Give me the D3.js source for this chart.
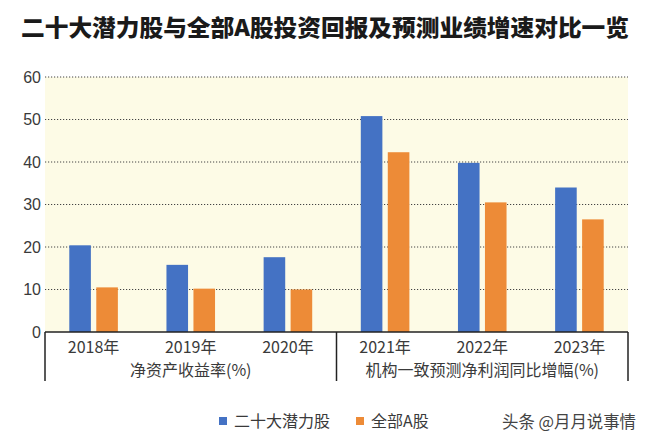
<!DOCTYPE html>
<html><head><meta charset="utf-8">
<script src="https://cdn.jsdelivr.net/npm/d3@7"></script>
<style>
html,body{margin:0;padding:0;background:#fff;}
svg{display:block;font-family:"Noto Sans CJK SC","Noto Sans",sans-serif;}
</style></head>
<body>
<svg id="chart" width="650" height="445"></svg>
<script>
const title = "二十大潜力股与全部A股投资回报及预测业绩增速对比一览";
const categories = ["2018年","2019年","2020年","2021年","2022年","2023年"];
const seriesNames = ["二十大潜力股","全部A股"];
const potentialStocks = [20.4, 15.8, 17.6, 50.8, 39.8, 34.0];
const allAShares = [10.5, 10.2, 10.0, 42.3, 30.5, 26.5];
const groupLabels = ["净资产收益率(%)", "机构一致预测净利润同比增幅(%)"];
const groupSpans = [[0,2],[3,5]];
const yTicks = [0,10,20,30,40,50,60];
const watermark = "头条 @月月说事情";
const colors = ["#4472c4", "#ed8b37"];

const svg = d3.select("#chart");
const L = 45, R = 628, T = 77, B = 332;

const x0 = d3.scaleBand().domain(categories).range([L, R]).padding(0);
const x1 = d3.scaleBand().domain(seriesNames).range([0, x0.bandwidth()]).paddingInner(0.2).paddingOuter(0.9);
const y = d3.scaleLinear().domain([0, 60]).range([B, T]);

// title
svg.append("text").attr("x", 325).attr("y", 36).attr("text-anchor", "middle")
  .attr("font-size", 23).attr("font-weight", 900).attr("fill", "#1a1a1a")
  .attr("textLength", 608).attr("lengthAdjust", "spacingAndGlyphs")
  .text(title);

// background
svg.append("rect").attr("x", L).attr("y", y(60)).attr("width", R - L).attr("height", B - y(60))
  .attr("fill", "#fdfbe6");

// grid
svg.append("g").selectAll("line").data(yTicks.filter(d => d > 0)).join("line")
  .attr("x1", L).attr("x2", R).attr("y1", d => y(d)).attr("y2", d => y(d))
  .attr("stroke", "#444").attr("stroke-width", 1).attr("stroke-dasharray", "1.2,1.8");

// y axis labels
const yAxis = d3.axisLeft(y).tickValues(yTicks).tickSize(0).tickPadding(4);
const yg = svg.append("g").attr("transform", `translate(${L},0)`).call(yAxis);
yg.select(".domain").remove();
yg.selectAll("text").attr("font-size", 16).attr("fill", "#3a3a3a")
  .attr("font-family", "'Liberation Sans', Arial, sans-serif");

// bars
const data = categories.map((c, i) => ({cat: c, vals: [potentialStocks[i], allAShares[i]]}));
const groups = svg.append("g").selectAll("g").data(data).join("g")
  .attr("transform", d => `translate(${x0(d.cat)},0)`);
groups.selectAll("rect").data(d => d.vals.map((v, j) => ({s: seriesNames[j], v, j}))).join("rect")
  .attr("x", d => x1(d.s)).attr("width", x1.bandwidth())
  .attr("y", d => y(d.v)).attr("height", d => B - y(d.v))
  .attr("fill", d => colors[d.j]);

// frame lines
const frame = svg.append("g").attr("stroke", "#222").attr("stroke-width", 1.5);
frame.append("line").attr("x1", L).attr("x2", R).attr("y1", B).attr("y2", B);
const dividers = [L, x0(categories[3]), R];
frame.selectAll("line.v").data(dividers).join("line").attr("class", "v")
  .attr("x1", d => d).attr("x2", d => d).attr("y1", B).attr("y2", 381);

// category labels
svg.append("g").selectAll("text").data(categories).join("text")
  .attr("x", d => x0(d) + x0.bandwidth() / 2).attr("y", 353)
  .attr("text-anchor", "middle").attr("font-size", 16).attr("fill", "#3a3a3a")
  .text(d => d);

// group labels
svg.append("g").selectAll("text").data(groupLabels).join("text")
  .attr("x", (d, i) => (x0(categories[groupSpans[i][0]]) + x0(categories[groupSpans[i][1]]) + x0.bandwidth()) / 2)
  .attr("y", 376).attr("text-anchor", "middle").attr("font-size", 16).attr("fill", "#3a3a3a")
  .text(d => d);

// legend
const legendX = [219, 356];
const lg = svg.append("g").selectAll("g").data(seriesNames).join("g")
  .attr("transform", (d, i) => `translate(${legendX[i]},421)`);
lg.append("rect").attr("x", 0).attr("y", -4).attr("width", 8).attr("height", 8)
  .attr("fill", (d, i) => colors[i]);
lg.append("text").attr("x", 15).attr("y", 6).attr("font-size", 16).attr("fill", "#3a3a3a").text(d => d);

// watermark
svg.append("text").attr("x", 502).attr("y", 428).attr("font-size", 17).attr("fill", "#444")
  .attr("textLength", 134).attr("lengthAdjust", "spacingAndGlyphs")
  .text(watermark);
</script>
</body></html>
